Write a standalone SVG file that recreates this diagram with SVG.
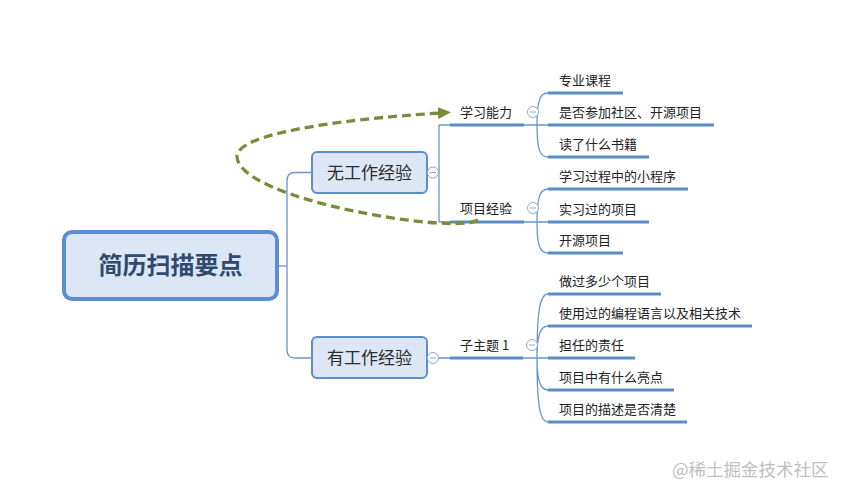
<svg xmlns="http://www.w3.org/2000/svg" width="847" height="495" viewBox="0 0 847 495">
<defs>
<style>
.t{font-family:"Noto Sans CJK SC","Liberation Sans",sans-serif;fill:#222;font-size:13px}
.n{font-family:"Noto Sans CJK SC","Liberation Sans",sans-serif;fill:#2b2b2b;font-size:17px}
.c{fill:none;stroke:#6a96cc;stroke-width:1.3}
.u{fill:none;stroke:#5a8cc8;stroke-width:3}
.box{fill:#dce6f4;stroke:#5b8dd0;stroke-width:2}
.col{fill:#fff;stroke:#8faad6;stroke-width:1}
</style>
<marker id="ah" viewBox="0 0 13 12" refX="2" refY="6" markerWidth="13" markerHeight="12" markerUnits="userSpaceOnUse" orient="auto">
<path d="M0,0 L13,6 L0,12 Z" fill="#7a8c3a"/>
</marker>
<g id="cm"><circle r="5.5" class="col"/><line x1="-3" y1="0" x2="3" y2="0" stroke="#8faad6" stroke-width="1"/></g>
</defs>
<rect width="847" height="495" fill="#fff"/>
<g id="connectors">
<path class="c" d="M279,266 H287"/>
<path class="c" d="M312,172.5 H295 Q287,172.5 287,180.5 V350 Q287,358 295,358 H312"/>
<path class="c" d="M438,172.5 H439 M439,125 V222 M439,125 H450 M439,222 H450"/>
<path class="c" d="M524,125 H537 M537,125 C537,100 540,93 548,93 M537,125 H548 M537,125 C537,150 540,157 548,157"/>
<path class="c" d="M524,222 H537 M537,222 C537,197 540,189 548,189 M537,222 H548 M537,222 C537,246 540,253 548,253"/>
<path class="c" d="M438,358 H450 M523,358 H537"/>
<path class="c" d="M537,358 C537,310 540,294 548,294 M537,358 C537,336 540,326 548,326 M537,358 H548 M537,358 C537,380 540,390 548,390 M537,358 C537,406 540,422 548,422"/>
<g class="u">
<path d="M450,125 H524 M450,222 H524 M450,358 H523"/>
<path d="M548,93 H623 M548,125 H714 M548,157 H649"/>
<path d="M548,189 H688 M548,222 H649 M548,253 H623"/>
<path d="M548,294 H661 M548,326 H752 M548,358 H635 M548,390 H674 M548,422 H687"/>
</g>
<path d="M478,220 C455,235 240,200 237,157 C235,135 330,120 440,113" fill="none" stroke="#7a8c3a" stroke-width="3.3" stroke-dasharray="9,5" marker-end="url(#ah)"/>
</g>
<g id="root">
<rect x="64" y="232" width="213" height="67" rx="8" fill="#dce6f4" stroke="#5b8dd0" stroke-width="4"/>
<text x="170.5" y="274" text-anchor="middle" font-family="Noto Sans CJK SC,Liberation Sans,sans-serif" font-weight="bold" font-size="24" fill="#2e4a70">简历扫描要点</text>
</g>
<g id="n1">
<rect class="box" x="312" y="152" width="115" height="41" rx="5"/>
<text class="n" x="369.5" y="178.5" text-anchor="middle">无工作经验</text>
<use href="#cm" x="433" y="172.5"/>
</g>
<g id="n2">
<rect class="box" x="312" y="337" width="115" height="41" rx="5"/>
<text class="n" x="369.5" y="363.5" text-anchor="middle">有工作经验</text>
<use href="#cm" x="433" y="358"/>
</g>
<g id="s1"><text class="t" x="460" y="117">学习能力</text><use href="#cm" x="533" y="112"/></g>
<g id="s2"><text class="t" x="460" y="213">项目经验</text><use href="#cm" x="533" y="208"/></g>
<g id="s3"><text class="t" x="460" y="350">子主题 1</text><use href="#cm" x="532" y="345"/></g>
<g id="l1"><text class="t" x="559" y="85">专业课程</text></g>
<g id="l2"><text class="t" x="559" y="117">是否参加社区、开源项目</text></g>
<g id="l3"><text class="t" x="559" y="149">读了什么书籍</text></g>
<g id="l4"><text class="t" x="559" y="181">学习过程中的小程序</text></g>
<g id="l5"><text class="t" x="559" y="214">实习过的项目</text></g>
<g id="l6"><text class="t" x="559" y="245">开源项目</text></g>
<g id="l7"><text class="t" x="559" y="286">做过多少个项目</text></g>
<g id="l8"><text class="t" x="559" y="318">使用过的编程语言以及相关技术</text></g>
<g id="l9"><text class="t" x="559" y="350">担任的责任</text></g>
<g id="l10"><text class="t" x="559" y="382">项目中有什么亮点</text></g>
<g id="l11"><text class="t" x="559" y="414">项目的描述是否清楚</text></g>
<text x="672" y="476" font-family="Noto Sans CJK SC,Liberation Sans,sans-serif" font-size="17.5" fill="#c0c0c0">@稀土掘金技术社区</text>
</svg>
